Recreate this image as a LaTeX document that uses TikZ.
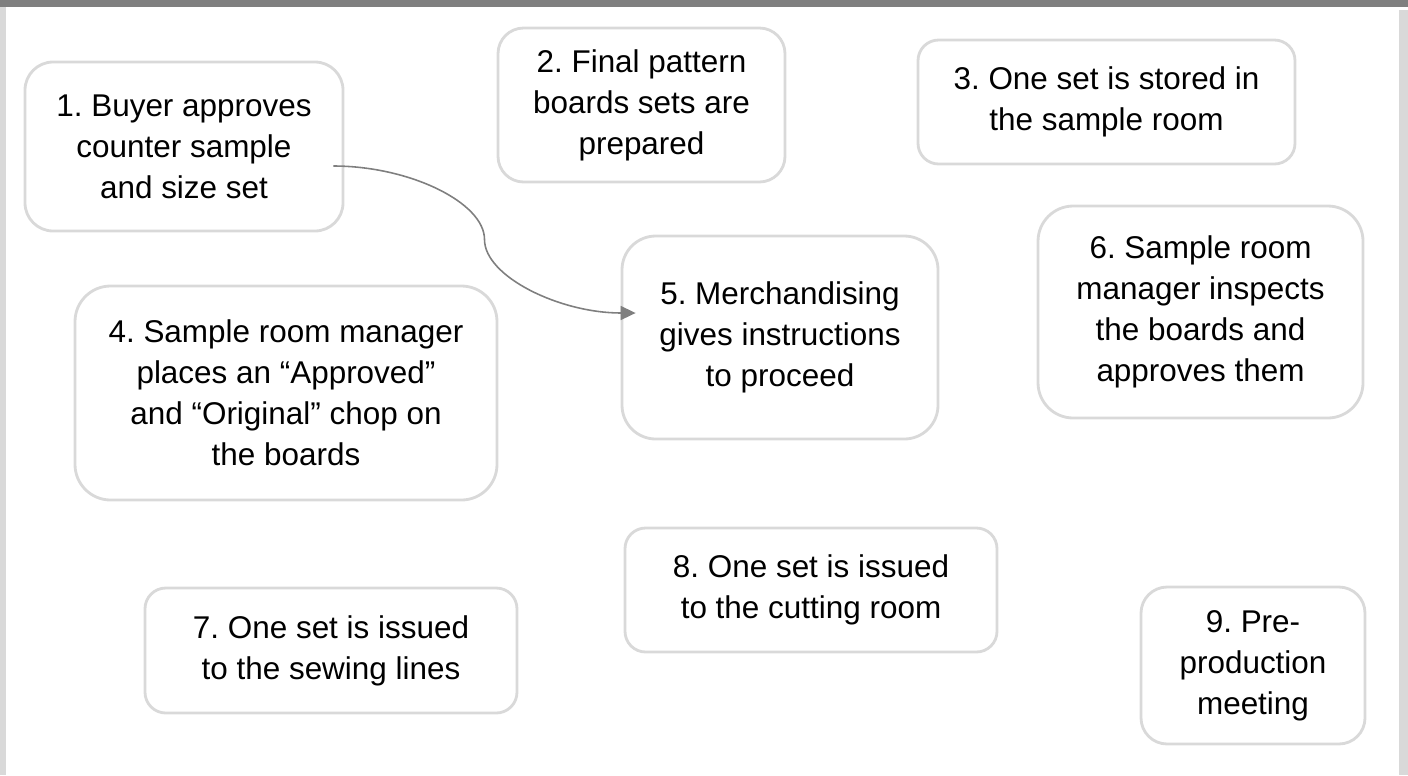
\documentclass[tikz,border=0pt]{standalone}
\usepackage{fontspec}
\setmainfont{Liberation Sans}
\usetikzlibrary{arrows.meta,calc}

\begin{document}
\begin{tikzpicture}[x=0.02cm,y=-0.02cm,
  card/.style 2 args={draw=myLight,line width=1.6pt,fill=white,
    rounded corners={min(#1,#2)*0.00333cm},
    minimum width=#1*0.02cm,minimum height=#2*0.02cm,inner sep=0pt,
    align=center,font=\fontsize{17.9}{23.3}\selectfont\frenchspacing}]
% Colors define
\definecolor{myDark}{HTML}{7F7F7F}
\definecolor{myLight}{HTML}{D9D9D9}

\useasboundingbox (0,0) rectangle (1408,775);

% Slide frame
\fill[myDark] (0,0) rectangle (1408,7);
\fill[myLight] (0,7) rectangle (6,775);
\fill[myLight] (1399,10) rectangle (1408,775);

% Steps
\node[card={318}{169}] (b1) at (184,146.5) {1. Buyer approves\\counter sample\\and size set};
\node[card={287}{154}] (b2) at (641.5,105) {2. Final pattern\\boards sets are\\prepared};
\node[card={377}{124}] (b3) at (1106.5,102) {3. One set is stored in\\the sample room};
\node[card={422}{214}] (b4) at (286,393) {4. Sample room manager\\places an “Approved”\\and “Original” chop on\\the boards};
\node[card={316}{203}] (b5) at (780,337.5) {5. Merchandising\\gives instructions\\to proceed};
\node[card={325}{212}] (b6) at (1200.5,312) {6. Sample room\\manager inspects\\the boards and\\approves them};
\node[card={372}{125}] (b7) at (331,650.5) {7. One set is issued\\to the sewing lines};
\node[card={372}{124}] (b8) at (811,590) {8. One set is issued\\to the cutting room};
\node[card={224}{157}] (b9) at (1253,665.5) {9. Pre-\\production\\meeting};

% Connector
\coordinate (start) at ($(b1.east)+(-11,19.5)$);
\coordinate (stop) at ($(b5.west)+(15,-24.5)$);
\coordinate (mid) at ($(start)!0.5!(stop)$);
\draw[myDark,line width=0.9pt,-{Triangle[length=0.3cm,width=0.28cm]}]
  (start) .. controls +(76,0) and +(0,-37) .. (mid)
          .. controls +(0,37) and +(-76,0) .. (stop);
\end{tikzpicture}
\end{document}
